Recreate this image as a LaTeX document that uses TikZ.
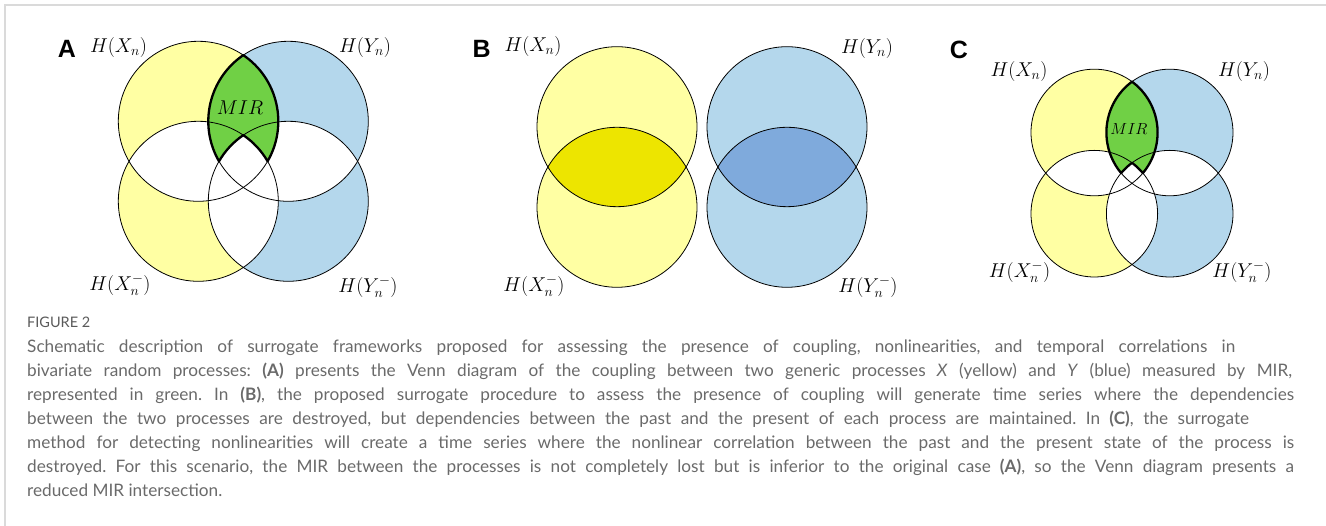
\RequirePackage{fix-cm}
\documentclass[tikz,border=0pt]{standalone}
\usepackage{amsmath}
\usepackage{fontspec}
\usepackage{tikz}
\usetikzlibrary{calc}
\setmainfont{Lato}
\newfontfamily\panelfont{Liberation Sans}

\definecolor{xyellow}{HTML}{FFFFA3}
\definecolor{xyellowdark}{HTML}{EDE500}
\definecolor{yblue}{HTML}{B4D7EC}
\definecolor{ybluedark}{HTML}{7FAADC}
\definecolor{mirgreen}{HTML}{70D045}
\definecolor{framegray}{HTML}{DADADA}
\definecolor{captiongray}{HTML}{6A6A6A}

\tikzset{
  ring/.style={draw=black, line width=0.8pt},
  mirline/.style={draw=black, line width=2.3pt, line join=round},
  entlabel/.style={inner sep=0pt, font=\fontsize{20}{23}\selectfont},
  panelletter/.style={inner sep=0pt, font=\panelfont\bfseries\fontsize{25}{27}\selectfont},
}

% one caption line, stretched to the width it has in print
\newcommand{\capline}[2]{\hbox to #1pt{#2}}

% four circles: #1 prefix, #2 cx, #3 cy, #4 horizontal gap, #5 vertical gap, #6 radius
\newcommand{\fourvenn}[6]{%
  \pgfmathsetmacro{\angA}{acos(#4/2/#6)}
  \pgfmathsetmacro{\angB}{asin(#5/2/#6)}
  \coordinate (#1tl) at (#2-#4/2, #3+#5/2);
  \coordinate (#1tr) at (#2+#4/2, #3+#5/2);
  \coordinate (#1bl) at (#2-#4/2, #3-#5/2);
  \coordinate (#1br) at (#2+#4/2, #3-#5/2);
  \def\mirshape{($(#1tr)+(180-\angA:#6)$)
    arc[start angle=180-\angA, end angle=180+\angB, radius=#6]
    arc[start angle=180-\angB, end angle=180-\angA, radius=#6]
    arc[start angle=\angA, end angle=\angB, radius=#6]
    arc[start angle=-\angB, end angle=\angA, radius=#6] -- cycle}
  \fill[xyellow] (#1tl) circle[radius=#6] (#1bl) circle[radius=#6];
  \fill[yblue] (#1tr) circle[radius=#6] (#1br) circle[radius=#6];
  % overlaps left white
  \begin{scope}
    \clip (#1tl) circle[radius=#6];
    \fill[white] (#1bl) circle[radius=#6];
  \end{scope}
  \begin{scope}
    \clip (#1tr) circle[radius=#6];
    \fill[white] (#1br) circle[radius=#6];
  \end{scope}
  \begin{scope}
    \clip (#1bl) circle[radius=#6];
    \fill[white] (#1br) circle[radius=#6];
  \end{scope}
  \fill[mirgreen] \mirshape;
  \foreach \c in {tl,tr,bl,br}
    \draw[ring] (#1\c) circle[radius=#6];
  \draw[mirline] \mirshape;
}

\begin{document}
\begin{tikzpicture}[x=1pt, y=1pt]
  \useasboundingbox (0,0) rectangle (1326,526);
  \draw[framegray, line width=2pt] (4.5,0) -- (4.5,521) -- (1326,521);

  % panel A
  \fourvenn{a}{243.3}{364.7}{90}{80}{80}
  \node[panelletter] (letterA) at (67,477) {A};
  \node[entlabel] (aX) at (118.5,478) {$H(X_n)$};
  \node[entlabel] (aY) at (365,478) {$H(Y_n)$};
  \node[entlabel] (aXp) at (120,241) {$H(X_n^-)$};
  \node[entlabel] (aYp) at (368,239) {$H(Y_n^-)$};
  \node[entlabel] (aMIR) at (240,418) {$MIR$};

  % panel B
  \coordinate (bxt) at (617,399.3);
  \coordinate (bxb) at (617,318.7);
  \coordinate (byt) at (787,399.3);
  \coordinate (byb) at (787,318.7);
  \fill[xyellow] (bxt) circle[radius=80] (bxb) circle[radius=80];
  \fill[yblue] (byt) circle[radius=80] (byb) circle[radius=80];
  \begin{scope}
    \clip (bxt) circle[radius=80];
    \fill[xyellowdark] (bxb) circle[radius=80];
  \end{scope}
  \begin{scope}
    \clip (byt) circle[radius=80];
    \fill[ybluedark] (byb) circle[radius=80];
  \end{scope}
  \foreach \c in {bxt,bxb,byt,byb}
    \draw[ring] (\c) circle[radius=80];
  \node[panelletter] (letterB) at (481.7,477) {B};
  \node[entlabel] (bX) at (533,479) {$H(X_n)$};
  \node[entlabel] (bY) at (867,477) {$H(Y_n)$};
  \node[entlabel] (bXp) at (534,240) {$H(X_n^-)$};
  \node[entlabel] (bYp) at (868,239) {$H(Y_n^-)$};

  % panel C
  \fourvenn{c}{1132}{352.9}{75.4}{81.2}{63.3}
  \node[panelletter] (letterC) at (959,476) {C};
  \node[entlabel] (cX) at (1019,454) {$H(X_n)$};
  \node[entlabel] (cY) at (1244,454) {$H(Y_n)$};
  \node[entlabel] (cXp) at (1019.5,254) {$H(X_n^-)$};
  \node[entlabel] (cYp) at (1242,254) {$H(Y_n^-)$};
  \node[entlabel, font=\fontsize{16}{18}\selectfont] (cMIR) at (1129,397) {$MIR$};

  % caption
  \node[anchor=base west, inner sep=0pt, text=captiongray!85!black,
        font=\fontsize{14.5}{16}\selectfont] (figtag) at (27,198) {FIGURE 2};
  \node[anchor=north west, inner sep=0pt, align=left, text=captiongray,
        font=\fontsize{17.2}{24}\selectfont\frenchspacing] (caption) at (27,186) {%
    \capline{1208}{Schematic description of surrogate frameworks proposed for assessing the presence of coupling, nonlinearities, and temporal correlations in}\\
    \capline{1265}{bivariate random processes: \textbf{(A)} presents the Venn diagram of the coupling between two generic processes \textit{X} (yellow) and \textit{Y} (blue) measured by MIR,}\\
    \capline{1267}{represented in green. In \textbf{(B)}, the proposed surrogate procedure to assess the presence of coupling will generate time series where the dependencies}\\
    \capline{1222}{between the two processes are destroyed, but dependencies between the past and the present of each process are maintained. In \textbf{(C)}, the surrogate}\\
    \capline{1267}{method for detecting nonlinearities will create a time series where the nonlinear correlation between the past and the present state of the process is}\\
    \capline{1267}{destroyed. For this scenario, the MIR between the processes is not completely lost but is inferior to the original case \textbf{(A)}, so the Venn diagram presents a}\\
    reduced MIR intersection.};
\end{tikzpicture}
\end{document}
